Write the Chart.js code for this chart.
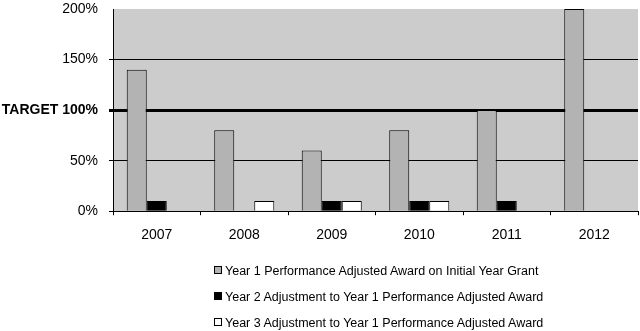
<!DOCTYPE html>
<html>
<head>
<meta charset="utf-8">
<script src="https://cdn.jsdelivr.net/npm/chart.js@4"></script>
<style>
  html, body { margin: 0; padding: 0; background: #fff; }
  #wrap { position: relative; width: 640px; height: 331px; }
  #legend { position: absolute; left: 214px; top: 263px; font: 12.5px "Liberation Sans", Arial, sans-serif; color: #000; }
  #legend .row { height: 26px; line-height: 16px; white-space: nowrap; }
  #legend .box { display: inline-block; width: 6px; height: 6px; border: 1px solid #000; margin-right: 3px; vertical-align: 1px; }
</style>
</head>
<body>
<div id="wrap">
  <canvas id="c" width="640" height="331"></canvas>
  <div id="legend"></div>
</div>
<script>
var years = ['2007', '2008', '2009', '2010', '2011', '2012'];
var seriesNames = [
  'Year 1 Performance Adjusted Award on Initial Year Grant',
  'Year 2 Adjustment to Year 1 Performance Adjusted Award',
  'Year 3 Adjustment to Year 1 Performance Adjusted Award'
];
var year1 = [140, 80, 60, 80, 100, 200];
var year2 = [10, 0, 10, 10, 10, 0];
var year3 = [0, 10, 10, 10, 0, 0];
var fills = ['#b3b3b3', '#000000', '#ffffff'];
var yTicks = [0, 50, 100, 150, 200];

var plotBg = {
  id: 'plotBg',
  beforeDraw: function(chart){
    var a = chart.chartArea, ctx = chart.ctx;
    ctx.save(); ctx.fillStyle = '#cccccc';
    ctx.fillRect(a.left, a.top, a.right - a.left, a.bottom - a.top);
    ctx.restore();
  }
};

var font = '"Liberation Sans", Arial, sans-serif';
new Chart(document.getElementById('c'), {
  type: 'bar',
  data: {
    labels: years,
    datasets: [year1, year2, year3].map(function(d, i){
      return { label: seriesNames[i], data: d, backgroundColor: fills[i], borderColor: '#000', borderWidth: 1,
        barPercentage: 1, categoryPercentage: 0.686 };
    })
  },
  options: {
    responsive: false, animation: false,
    layout: { padding: { top: 9, right: 2, bottom: 75, left: 0 } },
    plugins: { legend: { display: false }, tooltip: { enabled: false } },
    scales: {
      x: {
        afterFit: function(s){ s.paddingLeft = 0; s.paddingRight = 0; },
        grid: { offset: true, drawOnChartArea: false, color: '#000', tickLength: 4 },
        border: { color: '#000', width: 1 },
        ticks: { color: '#000', font: { family: font, size: 14 }, padding: 12 }
      },
      y: {
        min: 0, max: 200,
        afterBuildTicks: function(s){ s.ticks = yTicks.map(function(v){ return { value: v }; }); },
        afterFit: function(s){ s.width = 113; s.paddingTop = 0; s.paddingBottom = 0; },
        grid: { color: '#000', tickLength: 4,
          lineWidth: function(ctx){ var v = ctx.tick && ctx.tick.value; return v === 100 ? 3 : (v === 200 ? 0 : 1); } },
        border: { color: '#000', width: 1 },
        ticks: {
          color: '#000', padding: 11,
          callback: function(v){ return v === 100 ? 'TARGET 100%' : v + '%'; },
          font: function(ctx){ return { family: font, size: 14, weight: ctx.tick && ctx.tick.value === 100 ? 'bold' : 'normal' }; }
        }
      }
    }
  },
  plugins: [plotBg]
});

var lg = document.getElementById('legend');
seriesNames.forEach(function(n, i){
  var row = document.createElement('div'); row.className = 'row';
  var b = document.createElement('span'); b.className = 'box'; b.style.background = fills[i];
  row.appendChild(b); row.appendChild(document.createTextNode(n));
  lg.appendChild(row);
});
</script>
</body>
</html>
